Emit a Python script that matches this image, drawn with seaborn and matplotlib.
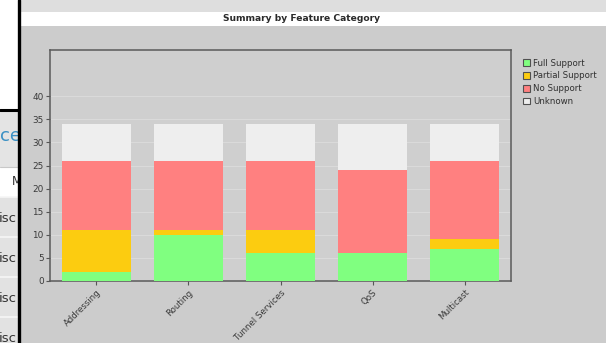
import matplotlib
matplotlib.use("Agg")
import matplotlib.pyplot as plt
from matplotlib.patches import Rectangle, Patch
from matplotlib.lines import Line2D
import numpy as np
import pandas as pd
import seaborn as sns

# Feature categories and support counts per category
categories = ["Addressing", "Routing", "Tunnel Services", "QoS", "Multicast"]
full_support = [2, 10, 6, 6, 7]
partial_support = [9, 1, 5, 0, 2]
no_support = [15, 15, 15, 18, 17]
unknown = [8, 8, 8, 10, 8]

series_names = ["Full Support", "Partial Support", "No Support", "Unknown"]
series_colors = ["#80ff80", "#fccc10", "#ff8080", "#eeeeee"]
y_ticks = [0, 5, 10, 15, 20, 25, 30, 35, 40]

W, H = 606, 343
BG = "#cccccc"

sns.set_theme(style="white")
plt.rcParams["font.family"] = ["DejaVu Sans"]

fig = plt.figure(figsize=(W / 100, H / 100), dpi=100, facecolor=BG)


def fx(px):
    return px / W


def fy(py):
    return 1 - py / H


# window chrome: top strip and white title band
fig.patches.append(Rectangle((fx(20), fy(12)), 1, 12 / H, transform=fig.transFigure,
                             facecolor="#dedede", edgecolor="none", zorder=0))
for yy, c in [(3, "#d2d2d2"), (7, "#e8e8e8"), (10, "#d6d6d6")]:
    fig.lines.append(Line2D([fx(20), 1], [fy(yy), fy(yy)], transform=fig.transFigure,
                            color=c, lw=0.8, zorder=0))
fig.patches.append(Rectangle((fx(20), fy(26)), 1, 14 / H, transform=fig.transFigure,
                             facecolor="white", edgecolor="none", zorder=0))
fig.text(fx(302), fy(18.5), "Summary by Feature Category", ha="center", va="center",
         fontsize=6.6, fontweight="bold", color="#2a2a2a")

# page fragment on the left edge
fig.patches.append(Rectangle((0, fy(109)), fx(18), 109 / H, transform=fig.transFigure,
                             facecolor="white", edgecolor="none", zorder=1))
side = fig.add_axes([0, 0, fx(18), (H - 111) / H])
side.set_xlim(0, 18)
side.set_ylim(H, 111)
side.axis("off")
side.add_patch(Rectangle((0, 111), 18, 56, facecolor="#e4e4e4", edgecolor="none"))
side.add_patch(Rectangle((0, 167), 18, 30, facecolor="white", edgecolor="none"))
for top in [197, 237, 277, 317]:
    side.add_patch(Rectangle((0, top), 18, 40, facecolor="#e2e2e2", edgecolor="none"))
    side.plot([0, 18], [top, top], color="#f6f6f6", lw=1.2)
side.plot([0, 18], [167, 167], color="#c8c8c8", lw=0.8)
side.text(21, 136, "ce", ha="right", va="center", fontsize=13, color="#3a90c4", clip_on=True)
side.text(11.5, 181, "M", ha="left", va="center", fontsize=8.5, color="#333333", clip_on=True)
for yy in [218, 258, 298, 338]:
    side.text(-1.5, yy, "isc", ha="left", va="center", fontsize=9.5, color="#333333", clip_on=True)

fig.lines.append(Line2D([0, fx(18)], [fy(110), fy(110)], transform=fig.transFigure,
                        color="black", lw=2.2, zorder=5))
fig.lines.append(Line2D([fx(18.5), fx(18.5)], [0, 1], transform=fig.transFigure,
                        color="black", lw=2.4, zorder=5))

# main plot
ax = fig.add_axes([fx(50), fy(281), 461 / W, 231 / H])
ax.set_facecolor("#cfcfcf")

df = pd.DataFrame({"category": categories, "Full Support": full_support,
                   "Partial Support": partial_support, "No Support": no_support,
                   "Unknown": unknown})

bottom = np.zeros(len(categories))
for name, color in zip(series_names, series_colors):
    vals = df[name].to_numpy(dtype=float)
    sns.barplot(x=df["category"], y=vals, bottom=bottom, color=color, width=0.75,
                saturation=1, edgecolor="none", linewidth=0, ax=ax, zorder=3)
    bottom = bottom + vals

ax.set_xlim(-0.5, len(categories) - 0.5)
ax.set_ylim(0, 50)
ax.set_yticks(y_ticks)
ax.set_yticklabels([str(t) for t in y_ticks])
ax.set_xlabel("")
ax.set_ylabel("")
ax.yaxis.grid(True, color="#dadada", lw=0.8, zorder=0)
ax.set_axisbelow(True)
ax.set_xticks(range(len(categories)))
ax.set_xticklabels(categories, rotation=45, ha="right", rotation_mode="anchor")
ax.tick_params(axis="both", direction="out", length=3, width=0.8, color="#555555",
               labelsize=6.4, labelcolor="#3a3a3a", pad=1.5, bottom=True, left=True)
ax.tick_params(axis="x", pad=2, labelsize=6.2)
for s in ax.spines.values():
    s.set_color("#5a5a5a")
    s.set_linewidth(1.1)

handles = [Patch(facecolor=c, edgecolor="#505050", linewidth=0.8) for c in series_colors]
fig.legend(handles, series_names, loc="upper left", bbox_to_anchor=(fx(523), fy(58.5)),
           frameon=False, fontsize=6.2, handlelength=0.8, handleheight=0.8,
           handletextpad=0.4, labelspacing=0.45, borderpad=0, borderaxespad=0,
           labelcolor="#303030")

fig.savefig("out.png", dpi=100, facecolor=BG)
